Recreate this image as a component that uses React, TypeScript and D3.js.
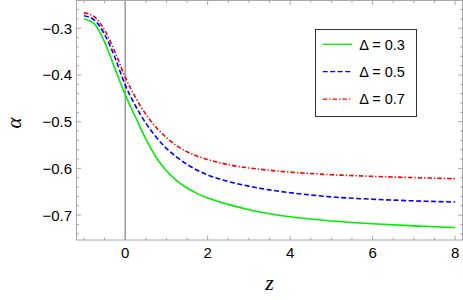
import React from "react";
import * as d3 from "d3";

const zValues = [-1, -0.75, -0.5, -0.25, 0, 0.25, 0.5, 0.75, 1, 1.25, 1.5, 1.75, 2, 2.5, 3, 3.5, 4, 5, 6, 7, 8];
const alpha03 = [-0.28, -0.29, -0.329, -0.386, -0.442, -0.49, -0.537, -0.576, -0.605, -0.626, -0.642, -0.654, -0.6635, -0.677, -0.6885, -0.697, -0.7035, -0.7125, -0.7185, -0.723, -0.7265];
const alpha05 = [-0.273, -0.282, -0.313, -0.362, -0.421, -0.466, -0.503, -0.533, -0.557, -0.576, -0.5915, -0.604, -0.614, -0.628, -0.638, -0.646, -0.652, -0.661, -0.666, -0.6695, -0.672];
const alpha07 = [-0.267, -0.275, -0.304, -0.35, -0.404, -0.448, -0.484, -0.512, -0.534, -0.5515, -0.5645, -0.574, -0.581, -0.592, -0.599, -0.604, -0.608, -0.6135, -0.617, -0.6197, -0.622];

const seriesLabels = ["Δ = 0.3", "Δ = 0.5", "Δ = 0.7"];
const xMajorTicks = [0, 2, 4, 6, 8];
const yMajorTicks = [-0.3, -0.4, -0.5, -0.6, -0.7];

const W = 463;
const H = 300;
const left = 76.5;
const right = 462.5;
const top = 0.5;
const bottom = 240;

export default function App() {
  const x = d3.scaleLinear().domain([-1.18, 8.18]).range([left, right]);
  const y = d3.scaleLinear().domain([-0.7533, -0.2405]).range([bottom, top]);

  const series = [
    { vals: alpha03, color: "#00ee00", dash: "" },
    { vals: alpha05, color: "#0000ff", dash: "5,2.5" },
    { vals: alpha07, color: "#ff0000", dash: "4.5,2,1.3,2" },
  ];

  const line = d3
    .line<[number, number]>()
    .x((d) => x(d[0]))
    .y((d) => y(d[1]))
    .curve(d3.curveMonotoneX);

  const xMinor = d3.range(-1, 8.01, 0.5).filter((v) => !xMajorTicks.some((m) => Math.abs(m - v) < 1e-6));
  const yMinor = d3
    .range(-0.74, -0.24, 0.02)
    .filter((v) => !yMajorTicks.some((m) => Math.abs(m - v) < 1e-6));

  const frameColor = "#a8a8a8";
  const majLen = 4.5;
  const minLen = 2.5;
  const font = "'Liberation Sans', Arial, sans-serif";
  const serif = "'Liberation Serif', 'DejaVu Serif', 'Times New Roman', serif";
  const fmt = (v: number) => (v < 0 ? "\u2212" : "") + Math.abs(v).toFixed(1);

  return (
    <svg
      width={W}
      height={H}
      style={{ position: "absolute", left: 0, top: 0, background: "#fff" }}
    >
      <rect x={0} y={0} width={W} height={H} fill="#fff" />
      <line x1={x(0)} x2={x(0)} y1={top} y2={bottom} stroke="#666" strokeWidth={1} />
      {series.map((s, i) => (
        <path
          key={i}
          d={line(zValues.map((z, j) => [z, s.vals[j]] as [number, number])) || ""}
          fill="none"
          stroke={s.color}
          strokeWidth={1.6}
          strokeDasharray={s.dash || undefined}
        />
      ))}
      <rect
        x={left}
        y={top}
        width={right - left}
        height={bottom - top}
        fill="none"
        stroke={frameColor}
        strokeWidth={1}
      />
      {xMajorTicks.map((v) => (
        <g key={"xM" + v}>
          <line x1={x(v)} x2={x(v)} y1={bottom} y2={bottom - majLen} stroke={frameColor} />
          <line x1={x(v)} x2={x(v)} y1={top} y2={top + majLen} stroke={frameColor} />
          <text x={x(v)} y={257.5} textAnchor="middle" fontFamily={font} fontSize={15} fill="#000">
            {String(v)}
          </text>
        </g>
      ))}
      {xMinor.map((v) => (
        <g key={"xm" + v}>
          <line x1={x(v)} x2={x(v)} y1={bottom} y2={bottom - minLen} stroke={frameColor} />
          <line x1={x(v)} x2={x(v)} y1={top} y2={top + minLen} stroke={frameColor} />
        </g>
      ))}
      {yMajorTicks.map((v) => (
        <g key={"yM" + v}>
          <line x1={left} x2={left + majLen} y1={y(v)} y2={y(v)} stroke={frameColor} />
          <line x1={right} x2={right - majLen} y1={y(v)} y2={y(v)} stroke={frameColor} />
          <text
            x={72}
            y={y(v)}
            dy="0.36em"
            textAnchor="end"
            fontFamily={font}
            fontSize={15}
            fill="#000"
          >
            {fmt(v)}
          </text>
        </g>
      ))}
      {yMinor.map((v) => (
        <g key={"ym" + v.toFixed(2)}>
          <line x1={left} x2={left + minLen} y1={y(v)} y2={y(v)} stroke={frameColor} />
          <line x1={right} x2={right - minLen} y1={y(v)} y2={y(v)} stroke={frameColor} />
        </g>
      ))}
      <text
        x={(left + right) / 2}
        y={290}
        textAnchor="middle"
        fontFamily={serif}
        fontStyle="italic"
        fontSize={22}
        fill="#000"
      >
        z
      </text>
      <text
        transform={`translate(21,123) rotate(-90)`}
        textAnchor="middle"
        fontFamily={serif}
        fontStyle="italic"
        fontSize={21}
        fill="#000"
      >
        α
      </text>
      <rect x={315.5} y={29.5} width={101} height={87} fill="#fff" stroke="#333" strokeWidth={1} />
      {series.map((s, i) => {
        const ly = 44.3 + i * 27.4;
        return (
          <g key={"lg" + i}>
            <line
              x1={322.7}
              x2={352.3}
              y1={ly}
              y2={ly}
              stroke={s.color}
              strokeWidth={1.3}
              strokeDasharray={s.dash || undefined}
            />
            <text x={359.3} y={ly} dy="0.36em" fontFamily={font} fontSize={14.5} fill="#000">
              {seriesLabels[i]}
            </text>
          </g>
        );
      })}
    </svg>
  );
}
